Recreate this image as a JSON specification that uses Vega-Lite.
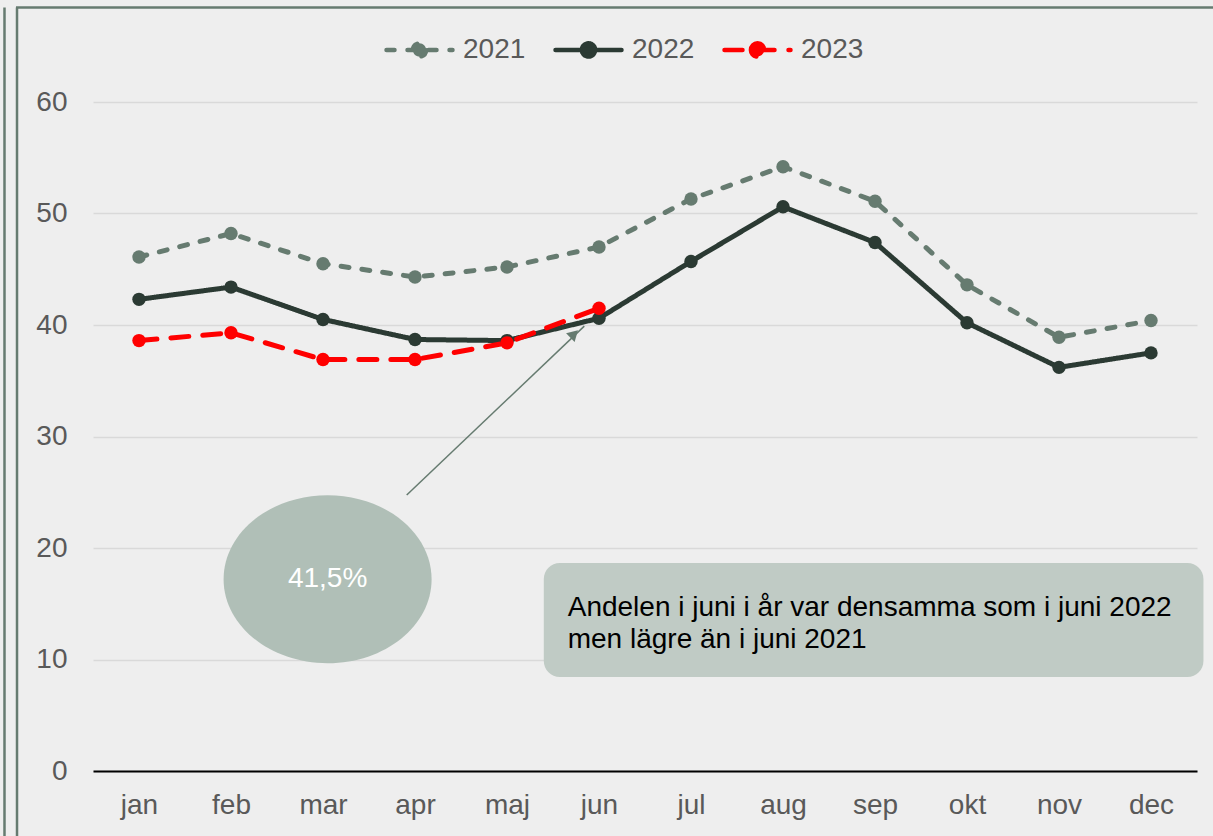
{
  "$schema": "https://vega.github.io/schema/vega-lite/v6.json",
  "width": 1104,
  "height": 669,
  "autosize": "none",
  "padding": {"left": 93, "top": 102, "right": 16, "bottom": 65},
  "background": "#eeeeee",
  "config": {"view": {"stroke": null}, "font": "Liberation Sans"},
  "datasets": {
    "series": [
      {"month": "jan", "m": 1, "year": "2021", "value": 46.1},
      {"month": "feb", "m": 2, "year": "2021", "value": 48.2},
      {"month": "mar", "m": 3, "year": "2021", "value": 45.5},
      {"month": "apr", "m": 4, "year": "2021", "value": 44.3},
      {"month": "maj", "m": 5, "year": "2021", "value": 45.2},
      {"month": "jun", "m": 6, "year": "2021", "value": 47.0},
      {"month": "jul", "m": 7, "year": "2021", "value": 51.3},
      {"month": "aug", "m": 8, "year": "2021", "value": 54.2},
      {"month": "sep", "m": 9, "year": "2021", "value": 51.1},
      {"month": "okt", "m": 10, "year": "2021", "value": 43.6},
      {"month": "nov", "m": 11, "year": "2021", "value": 38.9},
      {"month": "dec", "m": 12, "year": "2021", "value": 40.4},
      {"month": "jan", "m": 1, "year": "2022", "value": 42.3},
      {"month": "feb", "m": 2, "year": "2022", "value": 43.4},
      {"month": "mar", "m": 3, "year": "2022", "value": 40.5},
      {"month": "apr", "m": 4, "year": "2022", "value": 38.7},
      {"month": "maj", "m": 5, "year": "2022", "value": 38.6},
      {"month": "jun", "m": 6, "year": "2022", "value": 40.6},
      {"month": "jul", "m": 7, "year": "2022", "value": 45.7},
      {"month": "aug", "m": 8, "year": "2022", "value": 50.6},
      {"month": "sep", "m": 9, "year": "2022", "value": 47.4},
      {"month": "okt", "m": 10, "year": "2022", "value": 40.2},
      {"month": "nov", "m": 11, "year": "2022", "value": 36.2},
      {"month": "dec", "m": 12, "year": "2022", "value": 37.5},
      {"month": "jan", "m": 1, "year": "2023", "value": 38.6},
      {"month": "feb", "m": 2, "year": "2023", "value": 39.3},
      {"month": "mar", "m": 3, "year": "2023", "value": 36.9},
      {"month": "apr", "m": 4, "year": "2023", "value": 36.9},
      {"month": "maj", "m": 5, "year": "2023", "value": 38.4},
      {"month": "jun", "m": 6, "year": "2023", "value": 41.5}
    ],
    "frame": [
      {"x": -0.337, "x2": 12.7, "y": 68.48, "y2": 68.48},
      {"x": -0.326, "x2": -0.326, "y": 68.48, "y2": -6},
      {"x": -0.462, "x2": -0.462, "y": 68.48, "y2": -6}
    ],
    "box": [{"x": 5.4, "x2": 12.57, "y": 18.65, "y2": 8.43}],
    "bubble": [{"x": 3.05, "y": 17.2}],
    "arrow": [{"x": 3.91, "y": 24.75, "x2": 5.84, "y2": 39.9}],
    "arrowhead": [{"x": 5.73, "y": 39.2}],
    "bubbletext": [{"x": 3.05, "y": 17.2, "text": "41,5%"}],
    "boxtext": [
      {"x": 5.66, "y": 14.62, "text": "Andelen i juni i år var densamma som i juni 2022"},
      {"x": 5.66, "y": 11.75, "text": "men lägre än i juni 2021"}
    ]
  },
  "layer": [
    {
      "data": {"name": "series"},
      "mark": {"type": "line", "strokeWidth": 5, "strokeCap": "round", "point": {"filled": true, "size": 180, "opacity": 1}},
      "encoding": {
        "x": {
          "field": "m", "type": "quantitative", "scale": {"domain": [0.5, 12.5]},
          "axis": {
            "values": [1, 2, 3, 4, 5, 6, 7, 8, 9, 10, 11, 12],
            "labelExpr": "['jan','feb','mar','apr','maj','jun','jul','aug','sep','okt','nov','dec'][datum.value - 1]",
            "title": null, "grid": false, "ticks": false,
            "domainColor": "#000000", "domainWidth": 2,
            "labelFontSize": 28, "labelColor": "#595959", "labelPadding": 20
          }
        },
        "y": {
          "field": "value", "type": "quantitative", "scale": {"domain": [0, 60]},
          "axis": {
            "values": [0, 10, 20, 30, 40, 50, 60],
            "title": null, "domain": false, "ticks": false,
            "gridColor": "#d9d9d9", "gridWidth": 1.5,
            "labelFontSize": 28, "labelColor": "#595959", "labelPadding": 26
          }
        },
        "color": {
          "field": "year", "type": "nominal",
          "scale": {"domain": ["2021", "2022", "2023"], "range": ["#667b70", "#2b3a33", "#ff0000"]},
          "legend": {
            "orient": "none", "legendX": 291, "legendY": -88, "direction": "horizontal", "title": null,
            "symbolType": "M-1,0L1,0M-0.2,0A0.2,0.2 0 1,1 0.2,0A0.2,0.2 0 1,1 -0.2,0",
            "symbolSize": 4356, "symbolStrokeWidth": 4.5,
            "labelFontSize": 28, "labelColor": "#595959", "labelOffset": 8, "columnPadding": 20,
            "encode": {"symbols": {"update": {"fill": {"scale": "color", "field": "value"}, "strokeCap": {"value": "round"}}}}
          }
        },
        "strokeDash": {
          "field": "year", "type": "nominal",
          "scale": {"domain": ["2021", "2022", "2023"], "range": [[8, 13], [1, 0], [18, 14]]},
          "legend": {
            "orient": "none", "legendX": 291, "legendY": -88, "direction": "horizontal", "title": null,
            "symbolType": "M-1,0L1,0M-0.2,0A0.2,0.2 0 1,1 0.2,0A0.2,0.2 0 1,1 -0.2,0",
            "symbolSize": 4356, "symbolStrokeWidth": 4.5,
            "labelFontSize": 28, "labelColor": "#595959", "labelOffset": 8, "columnPadding": 20,
            "encode": {"symbols": {"update": {"fill": {"scale": "color", "field": "value"}, "strokeCap": {"value": "round"}}}}
          }
        }
      }
    },
    {
      "data": {"name": "frame"},
      "mark": {"type": "rule", "color": "#667b70", "strokeWidth": 2.5},
      "encoding": {
        "x": {"field": "x", "type": "quantitative", "title": null, "scale": {"domain": [0.5, 12.5]}},
        "x2": {"field": "x2"},
        "y": {"field": "y", "type": "quantitative", "title": null, "scale": {"domain": [0, 60]}},
        "y2": {"field": "y2"}
      }
    },
    {
      "data": {"name": "box"},
      "mark": {"type": "rect", "color": "#c0cbc5", "cornerRadius": 16},
      "encoding": {
        "x": {"field": "x", "type": "quantitative", "title": null, "scale": {"domain": [0.5, 12.5]}},
        "x2": {"field": "x2"},
        "y": {"field": "y", "type": "quantitative", "title": null, "scale": {"domain": [0, 60]}},
        "y2": {"field": "y2"}
      }
    },
    {
      "data": {"name": "bubble"},
      "mark": {"type": "point", "filled": true, "opacity": 1, "color": "#b0bfb7", "size": 43264, "shape": "M-1,0A1,0.808 0 1,1 1,0A1,0.808 0 1,1 -1,0Z"},
      "encoding": {
        "x": {"field": "x", "type": "quantitative", "title": null, "scale": {"domain": [0.5, 12.5]}},
        "y": {"field": "y", "type": "quantitative", "title": null, "scale": {"domain": [0, 60]}}
      }
    },
    {
      "data": {"name": "arrow"},
      "mark": {"type": "rule", "color": "#667b70", "strokeWidth": 1.5},
      "encoding": {
        "x": {"field": "x", "type": "quantitative", "title": null, "scale": {"domain": [0.5, 12.5]}},
        "x2": {"field": "x2"},
        "y": {"field": "y", "type": "quantitative", "title": null, "scale": {"domain": [0, 60]}},
        "y2": {"field": "y2"}
      }
    },
    {
      "data": {"name": "arrowhead"},
      "mark": {"type": "point", "shape": "triangle-up", "filled": true, "opacity": 1, "color": "#667b70", "size": 150, "angle": 46},
      "encoding": {
        "x": {"field": "x", "type": "quantitative", "title": null, "scale": {"domain": [0.5, 12.5]}},
        "y": {"field": "y", "type": "quantitative", "title": null, "scale": {"domain": [0, 60]}}
      }
    },
    {
      "data": {"name": "bubbletext"},
      "mark": {"type": "text", "color": "#ffffff", "fontSize": 28, "align": "center", "baseline": "middle"},
      "encoding": {
        "x": {"field": "x", "type": "quantitative", "title": null, "scale": {"domain": [0.5, 12.5]}},
        "y": {"field": "y", "type": "quantitative", "title": null, "scale": {"domain": [0, 60]}},
        "text": {"field": "text"}
      }
    },
    {
      "data": {"name": "boxtext"},
      "mark": {"type": "text", "color": "#000000", "fontSize": 28, "align": "left", "baseline": "middle"},
      "encoding": {
        "x": {"field": "x", "type": "quantitative", "title": null, "scale": {"domain": [0.5, 12.5]}},
        "y": {"field": "y", "type": "quantitative", "title": null, "scale": {"domain": [0, 60]}},
        "text": {"field": "text"}
      }
    }
  ]
}
